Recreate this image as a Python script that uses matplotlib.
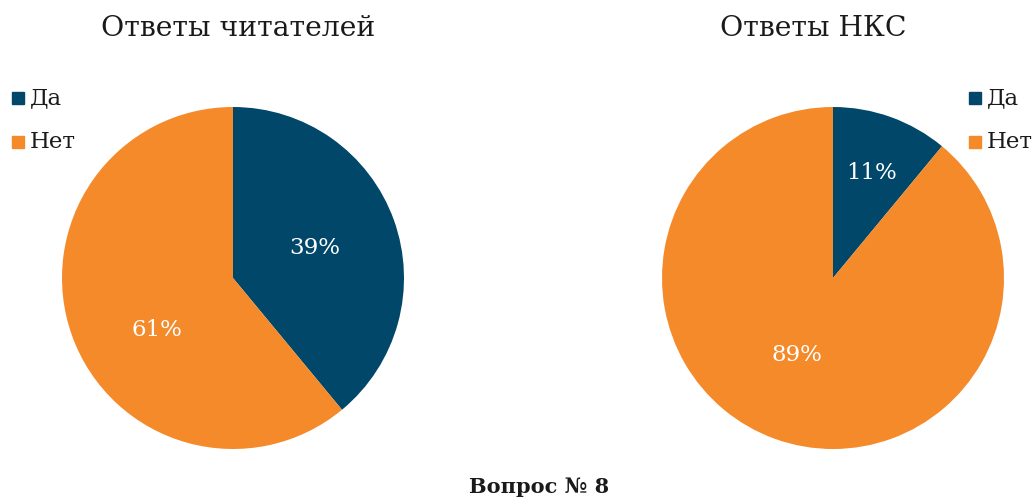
import matplotlib
matplotlib.use("Agg")
import matplotlib.pyplot as plt

plt.rcParams['font.family'] = ['DejaVu Serif']

# data
categories = ["Да", "Нет"]
readers = [39, 61]
nks = [11, 89]
titles = ["Ответы читателей", "Ответы НКС"]
colors = ["#00476A", "#F58A2B"]

W, H = 1035, 499
fig = plt.figure(figsize=(W / 100, H / 100), dpi=100)


def px_axes(cx, cy, r):
    return fig.add_axes([(cx - r) / W, (H - cy - r) / H, 2 * r / W, 2 * r / H])


def draw_pie(ax, values, label_pos):
    wedges, _ = ax.pie(values, colors=colors, startangle=90, counterclock=False,
                       radius=1, wedgeprops=dict(linewidth=0))
    # label positions as placed by the original (not at mid-angle)
    for v, (x, y) in zip(values, label_pos):
        ax.text(x, y, f"{v}%", color="white", ha="center", va="center", fontsize=16.5)
    ax.set_xlim(-1, 1)
    ax.set_ylim(-1, 1)
    ax.set_aspect("equal")
    ax.axis("off")
    return wedges


ax1 = px_axes(233, 278, 171)
draw_pie(ax1, readers, [(0.48, 0.175), (-0.444, -0.304)])
ax2 = px_axes(833, 278, 171)
draw_pie(ax2, nks, [(0.228, 0.614), (-0.21, -0.45)])

fig.text(238 / W, 1 - 28 / H, titles[0], ha="center", va="center", fontsize=20.3, color="#1a1a1a")
fig.text(813 / W, 1 - 28 / H, titles[1], ha="center", va="center", fontsize=20.3, color="#1a1a1a")

# legends
for x0, y_list in [(12, [98, 142]), (969, [98, 142])]:
    for cat, c, y in zip(categories, colors, y_list):
        fig.patches.append(plt.Rectangle((x0 / W, (H - y - 6) / H), 12 / W, 12 / H,
                                         transform=fig.transFigure, color=c))
        fig.text((x0 + 18) / W, 1 - y / H, cat, ha="left", va="center",
                 fontsize=16.5, color="#1a1a1a")

fig.text(539 / W, 1 - 487 / H, "Вопрос № 8", ha="center", va="center",
         fontsize=15, fontweight="bold", color="#1a1a1a")

fig.savefig("out.png", dpi=100, facecolor="white")
